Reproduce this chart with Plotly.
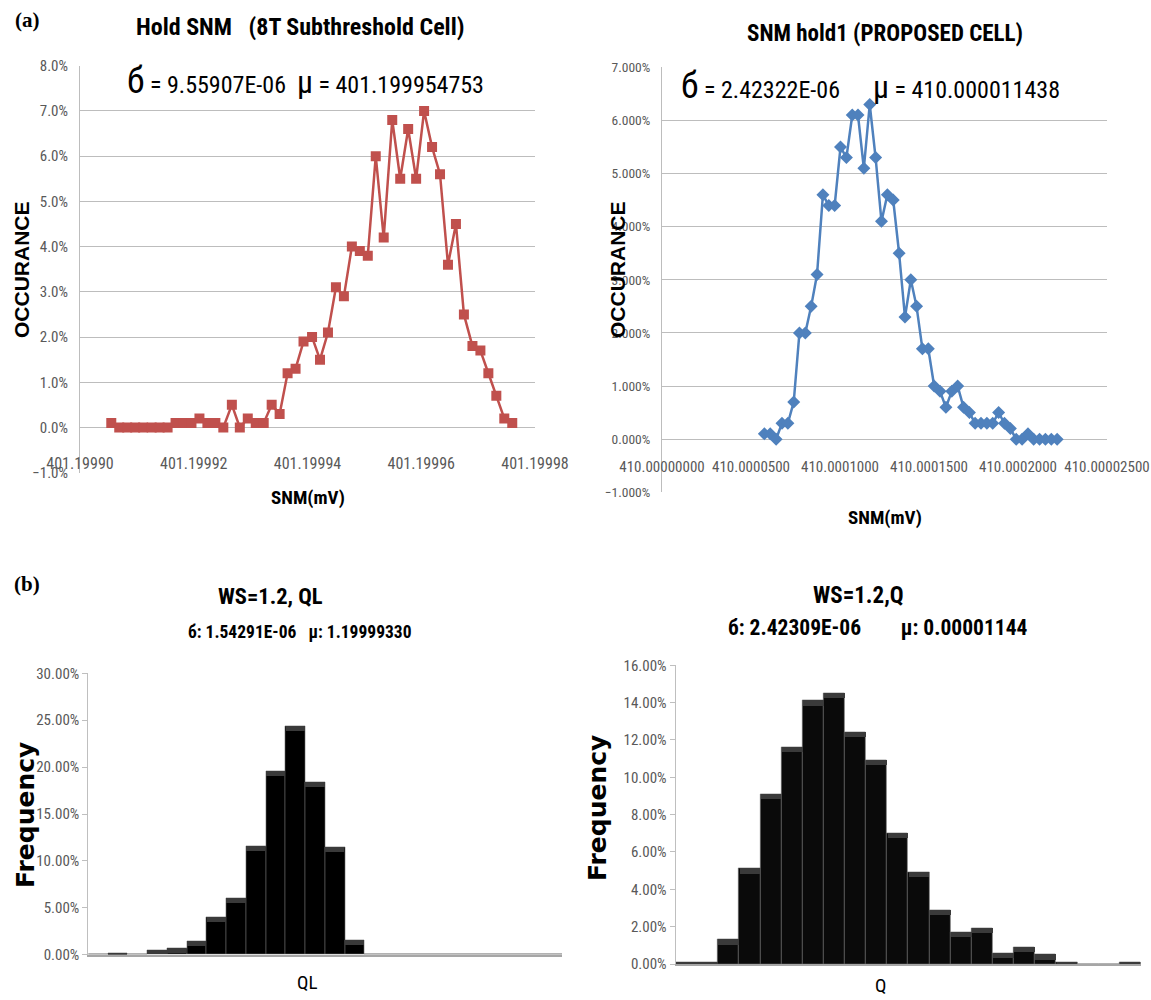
import plotly.graph_objects as go

# ---------------- data ----------------
# (a) left: Hold SNM (8T Subthreshold Cell)
hold_snm = [401.1999055, 401.1999069, 401.1999083, 401.1999097, 401.1999111, 401.1999126,
            401.1999140, 401.1999154, 401.1999168, 401.1999182, 401.1999196, 401.1999210,
            401.1999224, 401.1999238, 401.1999252, 401.1999267, 401.1999281, 401.1999295,
            401.1999309, 401.1999323, 401.1999337, 401.1999351, 401.1999365, 401.1999379,
            401.1999393, 401.1999408, 401.1999422, 401.1999436, 401.1999450, 401.1999464,
            401.1999478, 401.1999492, 401.1999506, 401.1999520, 401.1999534, 401.1999549,
            401.1999563, 401.1999577, 401.1999591, 401.1999605, 401.1999619, 401.1999633,
            401.1999647, 401.1999661, 401.1999675, 401.1999690, 401.1999704, 401.1999718,
            401.1999732, 401.1999746, 401.1999760]
hold_occ = [0.1, 0.0, 0.0, 0.0, 0.0, 0.0, 0.0, 0.0, 0.1, 0.1, 0.1, 0.2, 0.1, 0.1, 0.0, 0.5,
            0.0, 0.2, 0.1, 0.1, 0.5, 0.3, 1.2, 1.3, 1.9, 2.0, 1.5, 2.1, 3.1, 2.9, 4.0, 3.9,
            3.8, 6.0, 4.2, 6.8, 5.5, 6.6, 5.5, 7.0, 6.2, 5.6, 3.6, 4.5, 2.5, 1.8, 1.7, 1.2,
            0.7, 0.2, 0.1]
hold_xticks = [401.19990, 401.19992, 401.19994, 401.19996, 401.19998]
hold_xticktext = ["401.19990", "401.19992", "401.19994", "401.19996", "401.19998"]

# (a) right: SNM hold1 (PROPOSED CELL)
prop_snm = [410.0000575, 410.0000608, 410.0000641, 410.0000674, 410.0000707, 410.0000740,
            410.0000772, 410.0000805, 410.0000838, 410.0000871, 410.0000904, 410.0000937,
            410.0000970, 410.0001003, 410.0001036, 410.0001069, 410.0001101, 410.0001134,
            410.0001167, 410.0001200, 410.0001233, 410.0001266, 410.0001299, 410.0001332,
            410.0001365, 410.0001398, 410.0001430, 410.0001463, 410.0001496, 410.0001529,
            410.0001562, 410.0001595, 410.0001628, 410.0001661, 410.0001694, 410.0001727,
            410.0001759, 410.0001792, 410.0001825, 410.0001858, 410.0001891, 410.0001924,
            410.0001957, 410.0001990, 410.0002023, 410.0002056, 410.0002088, 410.0002121,
            410.0002154, 410.0002187, 410.0002220]
prop_occ = [0.1, 0.1, 0.0, 0.3, 0.3, 0.7, 2.0, 2.0, 2.5, 3.1, 4.6, 4.4, 4.4, 5.5, 5.3, 6.1,
            6.1, 5.1, 6.3, 5.3, 4.1, 4.6, 4.5, 3.5, 2.3, 3.0, 2.5, 1.7, 1.7, 1.0, 0.9, 0.6,
            0.9, 1.0, 0.6, 0.5, 0.3, 0.3, 0.3, 0.3, 0.5, 0.3, 0.2, 0.0, 0.0, 0.1, 0.0, 0.0,
            0.0, 0.0, 0.0]
prop_xticks = [410.0, 410.00005, 410.0001, 410.00015, 410.0002, 410.00025]
prop_xticktext = ["410.00000000", "410.0000500", "410.0001000", "410.0001500",
                  "410.0002000", "410.00002500"]

# (b) histograms (bin slots, frequency in %)
ql_bins = [0, 1, 2, 3, 4, 5, 6, 7, 8, 9, 10, 11, 12, 13, 14, 15, 16, 17, 18, 19, 20, 21,
           22, 23]
ql_freq = [0.0, 0.2, 0.0, 0.5, 0.7, 1.4, 4.0, 6.0, 11.6, 19.6, 24.4, 18.4, 11.5, 1.5,
           0.0, 0.0, 0.0, 0.0, 0.0, 0.0, 0.0, 0.0, 0.0, 0.0]
q_bins = [0, 1, 2, 3, 4, 5, 6, 7, 8, 9, 10, 11, 12, 13, 14, 15, 16, 17, 18, 19, 20, 21]
q_freq = [0.1, 0.1, 1.3, 5.1, 9.1, 11.6, 14.1, 14.5, 12.4, 10.9, 7.0, 4.9, 2.9, 1.7,
          1.9, 0.6, 0.9, 0.5, 0.1, 0.0, 0.0, 0.1]

# ---------------- layout helpers ----------------
W, H = 1151, 1000


def px(x):
    return x / W


def py(y):
    return 1 - y / H


NARROW = "Liberation Sans Narrow, Arial Narrow, Roboto Condensed, sans-serif"
GRAY = "#595959"
GRID = "#bdbdbd"
RED = "#C0504D"
BLUE = "#4F81BD"

fig = go.Figure()

fig.add_trace(go.Scatter(x=hold_snm, y=hold_occ, mode="lines+markers",
                         line=dict(color=RED, width=2.5),
                         marker=dict(symbol="square", size=10, color=RED),
                         xaxis="x", yaxis="y", showlegend=False))
fig.add_trace(go.Scatter(x=prop_snm, y=prop_occ, mode="lines+markers",
                         line=dict(color=BLUE, width=2.5),
                         marker=dict(symbol="diamond", size=10, color=BLUE),
                         xaxis="x2", yaxis="y2", showlegend=False))


def bevel(vals, depth):
    base = [max(v - depth, 0) for v in vals]
    h = [v - b for v, b in zip(vals, base)]
    return base, h


fig.add_trace(go.Bar(x=ql_bins, y=ql_freq, width=1, marker=dict(color="#000000",
                     line=dict(color="#6a6a6a", width=0.6)),
                     xaxis="x3", yaxis="y3", showlegend=False))
b3, h3 = bevel(ql_freq, 0.55)
fig.add_trace(go.Bar(x=ql_bins, y=h3, base=b3, width=0.98,
                     marker=dict(color="#3a3a3a", line=dict(width=0)),
                     xaxis="x3", yaxis="y3", showlegend=False))
fig.add_trace(go.Bar(x=q_bins, y=q_freq, width=1, marker=dict(color="#0a0a0a",
                     line=dict(color="#6a6a6a", width=0.6)),
                     xaxis="x4", yaxis="y4", showlegend=False))
b4, h4 = bevel(q_freq, 0.28)
fig.add_trace(go.Bar(x=q_bins, y=h4, base=b4, width=0.98,
                     marker=dict(color="#3a3a3a", line=dict(width=0)),
                     xaxis="x4", yaxis="y4", showlegend=False))

fig.update_layout(
    width=W, height=H, margin=dict(l=0, r=0, t=0, b=0, autoexpand=False),
    paper_bgcolor="white", plot_bgcolor="white", barmode="overlay", bargap=0,
    xaxis=dict(domain=[px(80), px(535)], range=[401.19990, 401.19998],
               anchor="free", position=py(452), showgrid=False, zeroline=False,
               showline=False, tickvals=hold_xticks, ticktext=hold_xticktext,
               tickfont=dict(family=NARROW, size=16, color=GRAY), ticks="",
               tickangle=0, automargin=False),
    yaxis=dict(domain=[py(472.7), py(65.7)], range=[-1, 8], dtick=1,
               tickformat=".1f", ticksuffix="%", showgrid=True, gridcolor=GRID,
               zeroline=False, showline=True, linecolor=GRID, ticks="",
               tickfont=dict(family=NARROW, size=15, color=GRAY), anchor="x",
               ticklabelstandoff=8, automargin=False),
    xaxis2=dict(domain=[px(662), px(1107)], range=[410.0, 410.00025],
                anchor="free", position=py(456), showgrid=False, zeroline=False,
                showline=False, tickvals=prop_xticks, ticktext=prop_xticktext,
                tickfont=dict(family=NARROW, size=15, color=GRAY), ticks="",
                tickangle=0, automargin=False),
    yaxis2=dict(domain=[py(492.3), py(67.3)], range=[-1, 7], dtick=1,
                tickformat=".3f", ticksuffix="%", showgrid=True, gridcolor=GRID,
                zeroline=False, showline=True, linecolor=GRID, ticks="",
                tickfont=dict(family=NARROW, size=13.5, color=GRAY), anchor="x2",
                ticklabelstandoff=8, automargin=False),
    xaxis3=dict(domain=[px(88.3), px(562)], range=[-0.5, 23.5], anchor="y3",
                showgrid=False, zeroline=False, showline=True, linecolor="#a6a6a6",
                linewidth=1.5, showticklabels=False, ticks="", automargin=False),
    yaxis3=dict(domain=[py(954.7), py(673.3)], range=[0, 30], dtick=5,
                tickformat=".2f", ticksuffix="%", showgrid=False, zeroline=False,
                showline=True, linecolor="#bfbfbf", ticks="outside", ticklen=5,
                tickcolor="#bfbfbf", tickfont=dict(family=NARROW, size=15, color=GRAY),
                anchor="x3", automargin=False),
    xaxis4=dict(domain=[px(675.6), px(1140.5)], range=[-0.5, 21.5], anchor="y4",
                showgrid=False, zeroline=False, showline=True, linecolor="#a6a6a6",
                linewidth=1.5, showticklabels=False, ticks="", automargin=False),
    yaxis4=dict(domain=[py(964), py(665.3)], range=[0, 16], dtick=2,
                tickformat=".2f", ticksuffix="%", showgrid=False, zeroline=False,
                showline=True, linecolor="#bfbfbf", ticks="outside", ticklen=5,
                tickcolor="#bfbfbf", tickfont=dict(family=NARROW, size=15, color=GRAY),
                anchor="x4", automargin=False),
)


def ann(x, y, text, size, family=NARROW, color="#000000", angle=0, xanchor="center"):
    fig.add_annotation(x=px(x), y=py(y), xref="paper", yref="paper", text=text,
                       showarrow=False, xanchor=xanchor, yanchor="middle",
                       textangle=angle, font=dict(family=family, size=size, color=color))


NB = "\u00a0"
SERIF = "Liberation Serif, Times New Roman, serif"
ARIALB = "Liberation Sans, Arial, sans-serif"

ann(27, 20, "<b>(a)</b>", 21, family=SERIF)
ann(27, 584, "<b>(b)</b>", 21, family=SERIF)

ann(300, 27, "<b>Hold SNM" + NB * 3 + "(8T Subthreshold Cell)</b>", 24)
ann(885, 33, "<b>SNM hold1 (PROPOSED CELL)</b>", 23)

ann(305, 81, "<span style='font-size:36px'>б</span> = 9.55907E-06" + NB * 2 +
    "<span style='font-size:32px'>μ</span> = 401.199954753", 24)
ann(870, 86, "<span style='font-size:36px'>б</span> = 2.42322E-06" + NB * 6 +
    "<span style='font-size:32px'>μ</span> = 410.000011438", 24)

ann(21, 270, "<b>OCCURANCE</b>", 21, family=ARIALB, angle=-90)
ann(617, 270, "<b>OCCURANCE</b>", 21, family=ARIALB, angle=-90)
ann(308, 497, "<b>SNM(mV)</b>", 19)
ann(885, 517, "<b>SNM(mV)</b>", 19)

ann(270, 596, "<b>WS=1.2, QL</b>", 22.5)
ann(300, 632, "<b>б: 1.54291E-06" + NB * 3 + "μ: 1.19999330</b>", 17.5)
ann(858, 595, "<b>WS=1.2,Q</b>", 23)
ann(878, 627, "<b>б: 2.42309E-06" + NB * 8 + "μ: 0.00001144</b>", 21.5)

ann(25, 815, "<b>Frequency</b>", 25, family="DejaVu Sans, Verdana, sans-serif", angle=-90)
ann(597, 808, "<b>Frequency</b>", 25, family="DejaVu Sans, Verdana, sans-serif", angle=-90)
ann(307, 982, "QL", 19)
ann(880, 985, "Q", 19)

fig.write_html("out.html")
